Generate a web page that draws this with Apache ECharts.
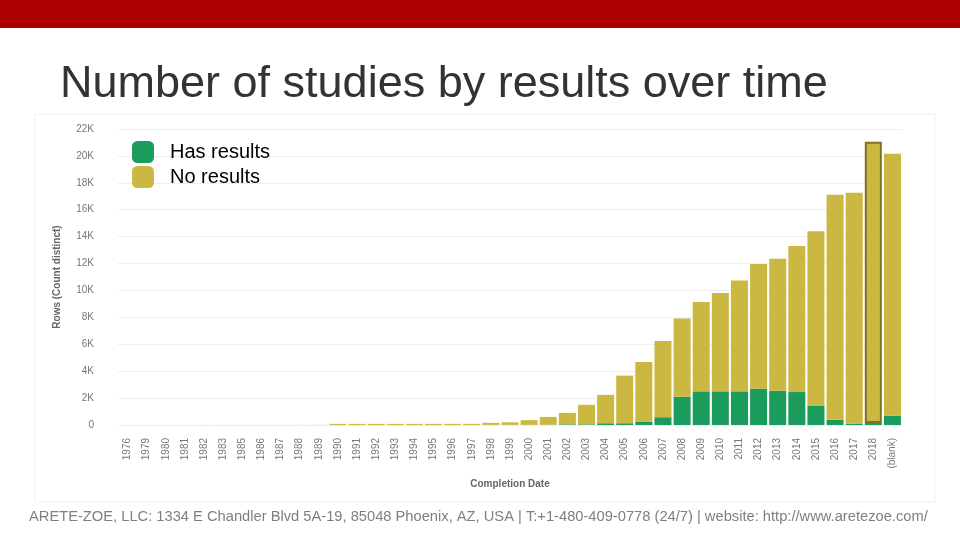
<!DOCTYPE html>
<html>
<head>
<meta charset="utf-8">
<script src="https://cdn.jsdelivr.net/npm/echarts@6/dist/echarts.min.js"></script>
<style>
  html, body { margin: 0; padding: 0; background: #fff; }
  #chart { width: 960px; height: 540px; }
</style>
</head>
<body>
<div id="chart"></div>
<script>
var years = ['1976', '1979', '1980', '1981', '1982', '1983', '1985', '1986', '1987', '1988', '1989',
    '1990', '1991', '1992', '1993', '1994', '1995', '1996', '1997', '1998', '1999',
    '2000', '2001', '2002', '2003', '2004', '2005', '2006', '2007', '2008', '2009',
    '2010', '2011', '2012', '2013', '2014', '2015', '2016', '2017', '2018', '(blank)'];

// studies that have posted results
var hasResults = [0, 0, 0, 0, 0, 0, 0, 0, 1, 1, 2,
    3, 3, 3, 3, 3, 4, 4, 5, 8, 10,
    10, 20, 50, 50, 130, 130, 250, 580, 2100, 2500,
    2500, 2500, 2700, 2550, 2450, 1450, 400, 100, 150, 700];

// studies without results
var noResults = [2, 1, 1, 2, 3, 3, 4, 5, 6, 8, 10,
    80, 80, 80, 80, 80, 80, 80, 80, 150, 190,
    350, 580, 850, 1450, 2110, 3540, 4430, 5660, 5820, 6650,
    7320, 8240, 9260, 9810, 10850, 12950, 16720, 17170, 20900, 19460];

var yTicks = ['0', '2K', '4K', '6K', '8K', '10K', '12K', '14K', '16K', '18K', '20K', '22K'];

var highlightYear = '2018';

var dom = document.getElementById('chart');
var myChart = echarts.init(dom);

var noData = noResults.map(function(v, i) {
    if (years[i] === highlightYear) {
        return {
            value: v,
            itemStyle: { borderColor: '#7f7222', borderWidth: 2 }
        };
    }
    return v;
});

var option = {
    animation: false,
    color: ['#1b9c5c', '#cbb842'],
    title: {
        text: 'Number of studies by results over time',
        left: 55,
        top: 57,
        textStyle: {
            fontFamily: 'Liberation Sans',
            fontSize: 45,
            fontWeight: 'normal',
            color: '#333333'
        }
    },
    graphic: [{
        type: 'rect',
        shape: { x: 0, y: 0, width: 960, height: 28 },
        style: { fill: '#ad0000' }
    }, {
        type: 'rect',
        shape: { x: 35, y: 114, width: 900, height: 388 },
        style: { fill: 'none', stroke: '#f2f2f2', lineWidth: 1 }
    }, {
        type: 'text',
        left: 29,
        top: 509,
        style: {
            text: 'ARETE-ZOE, LLC: 1334 E Chandler Blvd 5A-19, 85048 Phoenix, AZ, USA | T:+1-480-409-0778 (24/7) | website: http://www.aretezoe.com/',
            fontFamily: 'Liberation Sans',
            fontSize: 14.7,
            fill: '#7f7f7f'
        }
    }],
    legend: {
        data: ['Has results', 'No results'],
        orient: 'vertical',
        left: 132,
        top: 141,
        padding: 0,
        icon: 'roundRect',
        itemWidth: 22,
        itemHeight: 22,
        itemGap: 3,
        textStyle: {
            fontFamily: 'Liberation Sans',
            fontSize: 20,
            color: '#000',
            padding: [0, 0, 0, 11]
        }
    },
    grid: {
        left: 118,
        right: 58,
        top: 129,
        bottom: 115
    },
    xAxis: {
        type: 'category',
        data: years,
        name: 'Completion Date',
        nameLocation: 'middle',
        nameGap: 54,
        nameTextStyle: {
            fontFamily: 'Liberation Sans',
            fontSize: 10,
            fontWeight: 'bold',
            color: '#666'
        },
        axisLine: { show: false },
        axisTick: { show: false },
        axisLabel: {
            rotate: 90,
            interval: 0,
            margin: 13,
            fontFamily: 'Liberation Sans',
            fontSize: 10,
            color: '#777'
        }
    },
    yAxis: {
        type: 'value',
        min: 0,
        max: 22000,
        interval: 2000,
        name: 'Rows (Count distinct)',
        nameLocation: 'middle',
        nameGap: 56,
        nameTextStyle: {
            fontFamily: 'Liberation Sans',
            fontSize: 10,
            fontWeight: 'bold',
            color: '#666'
        },
        axisLine: { show: false },
        axisTick: { show: false },
        splitLine: { lineStyle: { color: '#eceff1' } },
        axisLabel: {
            margin: 24,
            fontFamily: 'Liberation Sans',
            fontSize: 10,
            color: '#777',
            formatter: function(v) {
                return yTicks[v / 2000];
            }
        }
    },
    series: [{
        name: 'Has results',
        type: 'bar',
        stack: 'total',
        barCategoryGap: '11%',
        data: hasResults
    }, {
        name: 'No results',
        type: 'bar',
        stack: 'total',
        barCategoryGap: '11%',
        data: noData
    }]
};
myChart.setOption(option, true);
</script>
</body>
</html>
